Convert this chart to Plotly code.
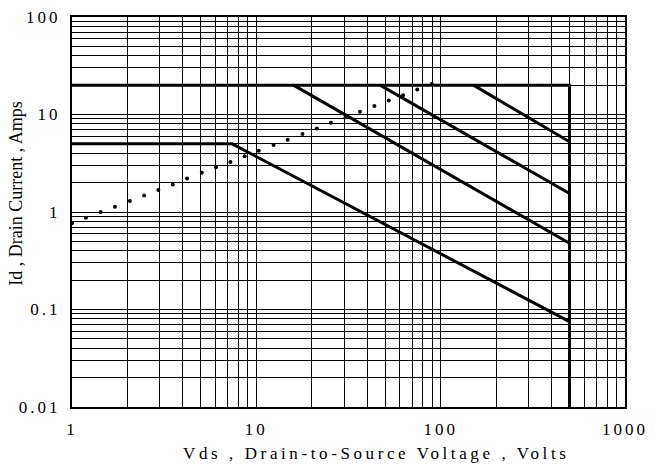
import plotly.graph_objects as go

def spaced(s, px):
    return '<span style="letter-spacing:%spx">%s</span>' % (px, s)

# Safe operating area boundaries
limit_v = [1, 500, 500]
limit_i = [20, 20, 0.01]

dc_v = [1, 7.4, 500]
dc_i = [5, 5, 0.075]

p1_v = [15.9, 500]
p1_i = [20, 0.478]

p2_v = [46.9, 500]
p2_i = [20, 1.55]

p3_v = [150.6, 500]
p3_i = [20, 5.26]

# Rds(on) limit (dotted)
rds_v = [1.00, 1.19, 1.43, 1.71, 2.06, 2.46, 2.94, 3.52, 4.21, 5.06, 6.04, 7.23, 8.65,
         10.3, 12.4, 14.8, 17.8, 21.3, 25.4, 30.5, 36.5, 43.7, 52.3, 62.5, 74.7, 89.5]
rds_i = [0.766, 0.874, 1.00, 1.13, 1.30, 1.48, 1.68, 1.92, 2.20, 2.53, 2.87, 3.26, 3.73,
         4.25, 4.86, 5.51, 6.31, 7.18, 8.24, 9.36, 10.7, 12.2, 13.9, 15.8, 18.1, 20.6]

x_tickvals = [1, 10, 100, 1000]
x_ticktext = ["1", "10", "100", "1000"]
y_tickvals = [0.01, 0.1, 1, 10, 100]
y_ticktext = ["0.01", "0.1", "1", "10", "100"]

x_title = "Vds , Drain-to-Source Voltage , Volts"
y_title = "Id , Drain Current , Amps"

minor_x = [m * 10 ** d for d in range(0, 3) for m in range(2, 10)]
minor_y = [m * 10 ** d for d in range(-2, 2) for m in range(2, 10)]

fig = go.Figure()
for xs, ys in [(limit_v, limit_i), (dc_v, dc_i), (p1_v, p1_i), (p2_v, p2_i), (p3_v, p3_i)]:
    fig.add_trace(go.Scatter(x=xs, y=ys, mode="lines",
                             line=dict(color="black", width=3), showlegend=False,
                             hoverinfo="skip"))
fig.add_trace(go.Scatter(x=rds_v, y=rds_i, mode="markers",
                         marker=dict(color="black", size=4), showlegend=False))

font_family = "Liberation Serif"

fig.update_layout(
    width=655, height=467,
    margin=dict(l=72, r=30, t=17, b=60),
    paper_bgcolor="white", plot_bgcolor="white",
    font=dict(family=font_family, size=17, color="black"),
    showlegend=False,
)
fig.update_xaxes(
    type="log", range=[0, 3], automargin=False,
    tickmode="array", tickvals=x_tickvals, ticktext=[spaced(t, 3) for t in x_ticktext],
    ticks="", ticklabelstandoff=6,
    showgrid=True, gridcolor="black", gridwidth=1,
    minor=dict(tickmode="array", tickvals=minor_x, showgrid=True,
               gridcolor="black", gridwidth=1, ticks=""),
    showline=True, linecolor="black", linewidth=2, mirror=True,
    zeroline=False,
)
fig.update_yaxes(
    type="log", range=[-2, 2], automargin=False,
    tickmode="array", tickvals=y_tickvals, ticktext=[spaced(t, 3) for t in y_ticktext],
    ticks="", ticklabelstandoff=6,
    showgrid=True, gridcolor="black", gridwidth=1,
    minor=dict(tickmode="array", tickvals=minor_y, showgrid=True,
               gridcolor="black", gridwidth=1, ticks=""),
    showline=True, linecolor="black", linewidth=2, mirror=True,
    zeroline=False,
)
fig.add_annotation(text=spaced(x_title, 3.6), xref="paper", yref="paper",
                   x=0.55, y=-0.118, xanchor="center", yanchor="middle",
                   showarrow=False, font=dict(size=17, family=font_family))
fig.add_annotation(text=y_title, xref="paper", yref="paper",
                   x=-0.101, y=0.547, xanchor="center", yanchor="middle",
                   textangle=-90, showarrow=False, font=dict(size=18, family=font_family))

fig.write_html("out.html", config={"displayModeBar": False},
               post_script="document.body.style.margin='0';document.body.style.padding='0';")
